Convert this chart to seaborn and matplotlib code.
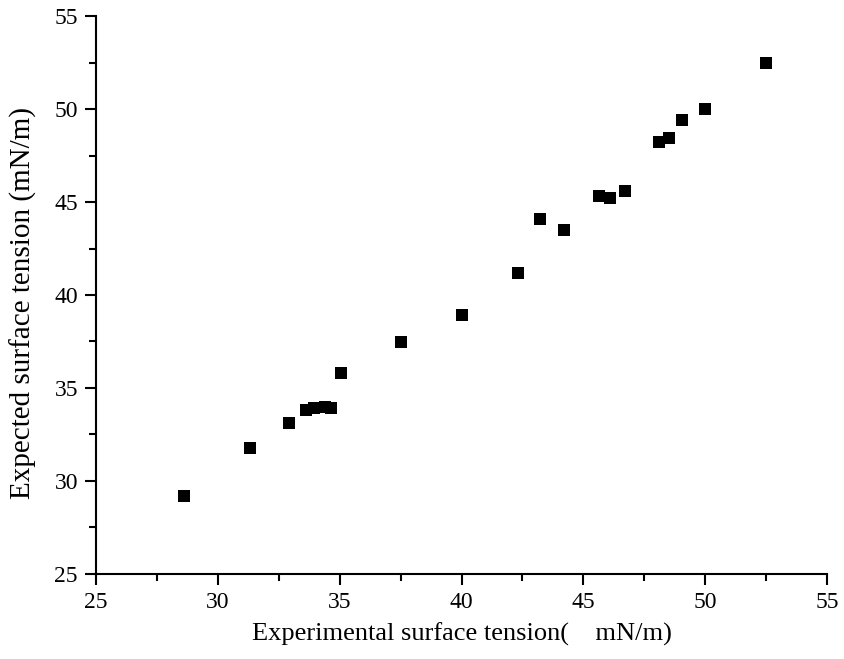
import numpy as np
import pandas as pd
import matplotlib
matplotlib.use("Agg")
import matplotlib.pyplot as plt
import seaborn as sns
from matplotlib.ticker import MultipleLocator

# Experimental vs expected surface tension (mN/m)
experimental = [28.6, 31.3, 32.9, 33.6, 33.95, 34.4, 34.65, 35.05, 37.5, 40.0,
                42.3, 43.2, 44.2, 45.65, 46.1, 46.7, 48.1, 48.5, 49.05, 50.0, 52.5]
expected = [29.2, 31.8, 33.1, 33.8, 33.9, 34.0, 33.9, 35.8, 37.45, 38.9,
            41.2, 44.1, 43.5, 45.3, 45.2, 45.6, 48.25, 48.45, 49.4, 50.0, 52.5]

df = pd.DataFrame({"experimental": experimental, "expected": expected})

sns.set_style("ticks")
plt.rcParams["font.family"] = ["Liberation Serif", "Noto Sans CJK SC", "DejaVu Serif"]
plt.rcParams["text.color"] = "black"
plt.rcParams["axes.labelcolor"] = "black"
plt.rcParams["xtick.color"] = "black"
plt.rcParams["ytick.color"] = "black"

fig = plt.figure(figsize=(8.44, 6.59), dpi=100)
ax = fig.add_axes([0.1137, 0.129, 0.8663, 0.8467])

sns.scatterplot(data=df, x="experimental", y="expected", marker="s", s=70,
                color="black", edgecolor="black", linewidth=0, ax=ax)

ax.set_xlim(25, 55)
ax.set_ylim(25, 55)
ax.xaxis.set_major_locator(MultipleLocator(5))
ax.yaxis.set_major_locator(MultipleLocator(5))
ax.xaxis.set_minor_locator(MultipleLocator(2.5))
ax.yaxis.set_minor_locator(MultipleLocator(2.5))
ax.tick_params(which="major", direction="out", length=8, width=1.5, labelsize=17,
               colors="black", pad=5)
ax.tick_params(which="minor", direction="out", length=5, width=1.5, colors="black")

for side in ["top", "right"]:
    ax.spines[side].set_visible(False)
for side in ["left", "bottom"]:
    ax.spines[side].set_linewidth(1.5)
    ax.spines[side].set_color("black")

ax.set_xlabel("Experimental surface tension(\u3000mN/m)", fontsize=19, color="black")
ax.set_ylabel("Expected surface tension (mN/m)", fontsize=21, color="black")
ax.xaxis.set_label_coords(0.5, -0.088)
ax.yaxis.set_label_coords(-0.08, 0.486)

fig.savefig("out.png", dpi=100)
